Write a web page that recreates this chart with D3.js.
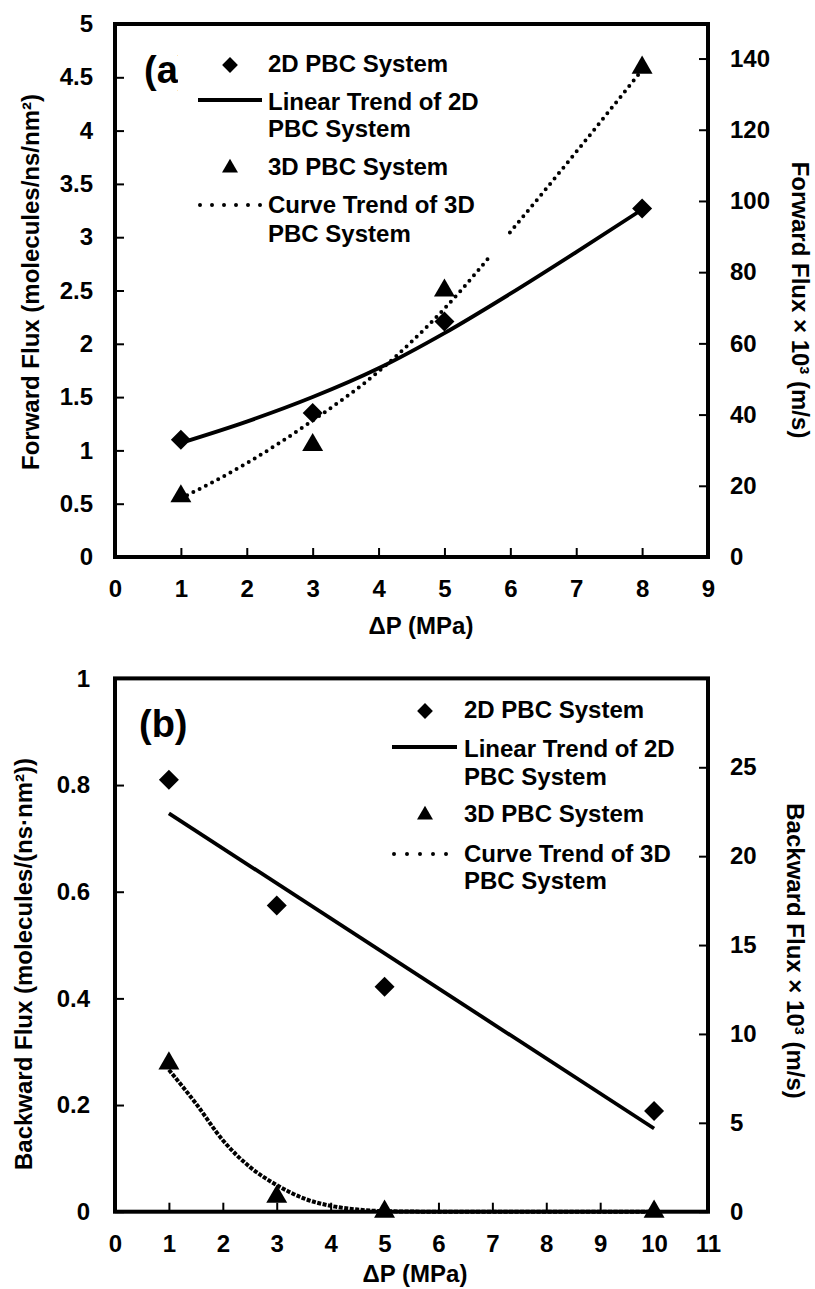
<!DOCTYPE html>
<html>
<head>
<meta charset="utf-8">
<script src="https://cdn.jsdelivr.net/npm/d3@7"></script>
<style>
  html, body { margin: 0; padding: 0; background: #fff; }
  svg { display: block; }
  text { font-family: "Liberation Sans", Arial, sans-serif; font-weight: bold; fill: #000; }
</style>
</head>
<body>
<svg id="chart" width="815" height="1289"></svg>
<script>
// ---------- Panel (a): forward flux ----------
const pressureA = [1, 3, 5, 8];
const forward2D = [1.10, 1.35, 2.21, 3.27];
const forward3D = [0.57, 1.05, 2.50, 4.59];
const trendPressureA = [1, 2, 3, 4, 5, 6, 7, 8];
const trendForward2D = [1.07, 1.27, 1.50, 1.77, 2.10, 2.47, 2.86, 3.26];
const trendForward3D = [0.55, 0.88, 1.28, 1.74, 2.33, 3.05, 3.80, 4.57];
const xTicksA = [0, 1, 2, 3, 4, 5, 6, 7, 8, 9];
const yTicksA = [0, 0.5, 1, 1.5, 2, 2.5, 3, 3.5, 4, 4.5, 5];
const yRightTicksA = [0, 20, 40, 60, 80, 100, 120, 140];

// ---------- Panel (b): backward flux ----------
const pressureB = [1, 3, 5, 10];
const backward2D = [0.81, 0.574, 0.422, 0.189];
const backward3D = [0.278, 0.028, 0, 0];
const trendPressureB2D = [1, 10];
const trendBackward2D = [0.747, 0.156];
const trendPressureB3D = [1, 1.5, 2, 2.5, 3, 3.5, 4, 4.5, 5, 6, 7, 8, 9, 10];
const trendBackward3D = [0.266, 0.203, 0.134, 0.084, 0.05, 0.025, 0.011, 0.004, 0.001, 0, 0, 0, 0, 0];
const xTicksB = [0, 1, 2, 3, 4, 5, 6, 7, 8, 9, 10, 11];
const yTicksB = [0, 0.2, 0.4, 0.6, 0.8, 1];
const yRightTicksB = [0, 5, 10, 15, 20, 25];

const legendLabels = [["2D PBC System"], ["Linear Trend of 2D", "PBC System"], ["3D PBC System"], ["Curve Trend of 3D", "PBC System"]];

const svg = d3.select("#chart");
const FS = 24;

function panel(cfg) {
  const g = svg.append("g");
  const x = d3.scaleLinear().domain(cfg.xDomain).range([cfg.left, cfg.right]);
  const y = d3.scaleLinear().domain(cfg.yDomain).range([cfg.bottom, cfg.top]);
  const yR = d3.scaleLinear().domain(cfg.yRDomain).range([cfg.bottom, cfg.top]);

  const styleAxis = sel => {
    sel.select(".domain").remove();
    sel.selectAll(".tick line").attr("stroke", "#000").attr("stroke-width", 2);
    sel.selectAll(".tick text").attr("font-size", FS).attr("font-family", '"Liberation Sans", Arial, sans-serif').attr("font-weight", "bold").attr("fill", "#000");
  };

  g.append("g").attr("transform", `translate(0,${cfg.bottom})`)
    .call(d3.axisBottom(x).tickValues(cfg.xTicks).tickSize(-9).tickPadding(23).tickFormat(d => d))
    .call(styleAxis);
  g.append("g").attr("transform", `translate(${cfg.left},0)`)
    .call(d3.axisLeft(y).tickValues(cfg.yTicks).tickSize(-9).tickPadding(cfg.leftPad).tickFormat(d => d))
    .call(styleAxis);
  g.append("g").attr("transform", `translate(${cfg.right},0)`)
    .call(d3.axisRight(yR).tickValues(cfg.yRTicks).tickSize(-9).tickPadding(22).tickFormat(d => d))
    .call(styleAxis);

  // frame
  g.append("rect").attr("x", cfg.left).attr("y", cfg.top)
    .attr("width", cfg.right - cfg.left).attr("height", cfg.bottom - cfg.top)
    .attr("fill", "none").attr("stroke", "#000").attr("stroke-width", 4);

  // trend lines
  const line = d3.line().x(d => x(d[0])).y(d => y(d[1])).curve(d3.curveMonotoneX);
  g.append("path").datum(d3.zip(cfg.t2x, cfg.t2y)).attr("d", line)
    .attr("fill", "none").attr("stroke", "#000").attr("stroke-width", 3.8);
  g.append("path").datum(d3.zip(cfg.t3x, cfg.t3y)).attr("d", line)
    .attr("fill", "none").attr("stroke", "#000").attr("stroke-width", cfg.dotW)
    .attr("stroke-linecap", cfg.dotCap).attr("stroke-dasharray", cfg.dotDash);

  // markers
  const diamond = d3.symbol(d3.symbolSquare, 200)();
  const tri = d3.symbol(d3.symbolTriangle, 190)();
  g.selectAll(".dm").data(d3.zip(cfg.px, cfg.p2)).join("path")
    .attr("d", diamond).attr("transform", d => `translate(${x(d[0])},${y(d[1])}) rotate(45)`).attr("fill", "#000");
  g.selectAll(".tr").data(d3.zip(cfg.px, cfg.p3)).join("path")
    .attr("d", tri).attr("transform", d => `translate(${x(d[0])},${y(d[1])})`).attr("fill", "#000");

  // panel label
  g.append("text").attr("x", cfg.labX).attr("y", cfg.labY).attr("font-size", 38).text(cfg.label);

  // legend
  const L = cfg.legend;
  if (L.box) {
    g.append("rect").attr("x", L.box[0]).attr("y", L.box[1]).attr("width", L.box[2]).attr("height", L.box[3]).attr("fill", "#fff");
  }
  g.append("path").attr("d", d3.symbol(d3.symbolSquare, 125)()).attr("transform", `translate(${L.mx},${L.rows[0] - 7}) rotate(45)`).attr("fill", "#000");
  g.append("line").attr("x1", L.l0).attr("x2", L.l1).attr("y1", L.rows[1] - 10).attr("y2", L.rows[1] - 10)
    .attr("stroke", "#000").attr("stroke-width", 3.8);
  g.append("path").attr("d", d3.symbol(d3.symbolTriangle, 110)()).attr("transform", `translate(${L.mx},${L.rows[3] - 7})`).attr("fill", "#000");
  g.append("line").attr("x1", L.l0 + 2).attr("x2", L.l1).attr("y1", L.rows[4] - 8).attr("y2", L.rows[4] - 8)
    .attr("stroke", "#000").attr("stroke-width", 4).attr("stroke-linecap", "round").attr("stroke-dasharray", L.dash);
  const flat = [];
  legendLabels.forEach(lines => lines.forEach(t => flat.push(t)));
  flat.forEach((t, i) => {
    g.append("text").attr("x", L.tx).attr("y", L.rows[i]).attr("font-size", FS).text(t);
  });

  // axis titles
  g.append("text").attr("text-anchor", "middle").attr("font-size", FS)
    .attr("x", cfg.xTitle[0]).attr("y", cfg.xTitle[1]).text("\u0394P (MPa)");
  g.append("text").attr("text-anchor", "middle").attr("font-size", FS)
    .attr("transform", `translate(${cfg.yTitle[0]},${cfg.yTitle[1]}) rotate(-90)`).text(cfg.yTitleText);
  g.append("text").attr("text-anchor", "middle").attr("font-size", FS)
    .attr("transform", `translate(${cfg.yRTitle[0]},${cfg.yRTitle[1]}) rotate(90)`).text(cfg.yRTitleText);
}

panel({
  xDomain: [0, 9], yDomain: [0, 5], yRDomain: [0, 149.7],
  left: 115, right: 708, top: 24, bottom: 557,
  xTicks: xTicksA, yTicks: yTicksA, yRTicks: yRightTicksA, leftPad: 22,
  t2x: trendPressureA, t2y: trendForward2D, t3x: trendPressureA, t3y: trendForward3D,
  dotW: 4, dotCap: "round", dotDash: "0 7",
  px: pressureA, p2: forward2D, p3: forward3D,
  label: "(a)", labX: 144, labY: 83,
  legend: { box: [178, 32, 330, 225], mx: 230, l0: 198, l1: 262, tx: 268, rows: [72, 110, 137, 175, 213, 242], dash: "0 12" },
  xTitle: [421, 634], yTitle: [39, 282], yTitleText: "Forward Flux (molecules/ns/nm\u00b2)",
  yRTitle: [792, 300], yRTitleText: "Forward Flux \u00d7 10\u00b3 (m/s)"
});

panel({
  xDomain: [0, 11], yDomain: [0, 1], yRDomain: [0, 30],
  left: 115, right: 708, top: 678.4, bottom: 1211.7,
  xTicks: xTicksB, yTicks: yTicksB, yRTicks: yRightTicksB, leftPad: 25,
  t2x: trendPressureB2D, t2y: trendBackward2D, t3x: trendPressureB3D, t3y: trendBackward3D,
  dotW: 4, dotCap: "butt", dotDash: "4 1.5",
  px: pressureB, p2: backward2D, p3: backward3D,
  label: "(b)", labX: 139, labY: 737,
  legend: { box: null, mx: 425, l0: 392, l1: 457, tx: 464, rows: [718, 757, 785, 822, 862, 889], dash: "0 13" },
  xTitle: [415, 1282], yTitle: [32, 964], yTitleText: "Backward Flux (molecules/(ns\u00b7nm\u00b2))",
  yRTitle: [787, 951], yRTitleText: "Backward Flux \u00d7 10\u00b3 (m/s)"
});
</script>
</body>
</html>
